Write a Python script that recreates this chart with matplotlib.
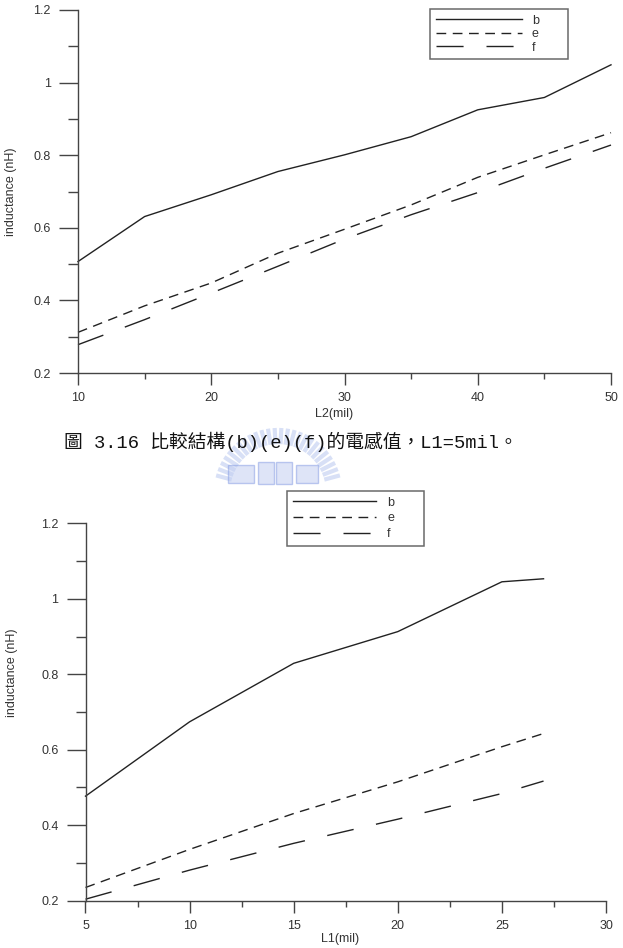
import numpy as np
import matplotlib
matplotlib.use("Agg")
import matplotlib.pyplot as plt
from matplotlib.ticker import MultipleLocator, FuncFormatter
from matplotlib.lines import Line2D
from matplotlib.patches import Rectangle

# ---------------- data ----------------
top_x = [10, 15, 20, 25, 30, 35, 40, 45, 50]
top_b = [0.507, 0.631, 0.691, 0.755, 0.801, 0.851, 0.925, 0.959, 1.049]
top_e = [0.312, 0.385, 0.448, 0.530, 0.596, 0.663, 0.739, 0.801, 0.862]
top_f = [0.278, 0.347, 0.420, 0.494, 0.569, 0.636, 0.697, 0.764, 0.828]

bot_x = [5, 10, 15, 20, 25, 27]
bot_b = [0.477, 0.674, 0.829, 0.913, 1.045, 1.053]
bot_e = [0.235, 0.336, 0.431, 0.515, 0.608, 0.643]
bot_f = [0.204, 0.281, 0.352, 0.416, 0.484, 0.517]

series_names = ["b", "e", "f"]
top_xlabel = "L2(mil)"
bot_xlabel = "L1(mil)"
ylabel = "inductance (nH)"
caption = "圖 3.16 比較結構(b)(e)(f)的電感值，L1=5mil。"

# ---------------- style ----------------
W, H = 623, 948
plt.rcParams['font.family'] = ['Liberation Sans', 'DejaVu Sans']
fig = plt.figure(figsize=(W / 100, H / 100), dpi=100)

line_col = '#222222'
axis_col = '#444444'
styles = [dict(ls='-'), dict(ls=(0, (7, 4.7))), dict(ls=(0, (19.5, 16.5)))]


def fmt(v, pos):
    return ('%g' % round(v, 3))


def style_axes(ax, xlim, xmaj, xmin):
    ax.set_xlim(*xlim)
    ax.set_ylim(0.2, 1.2)
    for s in ['top', 'right']:
        ax.spines[s].set_visible(False)
    for s in ['left', 'bottom']:
        ax.spines[s].set_color(axis_col)
        ax.spines[s].set_linewidth(1.0)
    ax.xaxis.set_major_locator(MultipleLocator(xmaj))
    ax.xaxis.set_minor_locator(MultipleLocator(xmin))
    ax.yaxis.set_major_locator(MultipleLocator(0.2))
    ax.yaxis.set_minor_locator(MultipleLocator(0.1))
    ax.yaxis.set_major_formatter(FuncFormatter(fmt))
    ax.tick_params(axis='y', which='major', direction='out', length=13.5, width=1.0,
                   color=axis_col, labelsize=9, labelcolor='#333333', pad=6)
    ax.tick_params(axis='y', which='minor', direction='out', length=7, width=1.0, color=axis_col)
    ax.tick_params(axis='x', which='major', direction='out', length=8.5, width=1.0,
                   color=axis_col, labelsize=9, labelcolor='#333333', pad=5.5)
    ax.tick_params(axis='x', which='minor', direction='out', length=4, width=1.0, color=axis_col)
    for sp in ax.spines.values():
        sp.set_zorder(5)


def style_legend(leg):
    leg.get_frame().set_edgecolor(axis_col)
    leg.get_frame().set_linewidth(1.1)
    for t in leg.get_texts():
        t.set_color('#333333')


# ---------------- top axes ----------------
ax1 = fig.add_axes([78 / W, 1 - 373 / H, (611 - 78) / W, (373 - 10) / H])
style_axes(ax1, (10, 50), 10, 5)
for ys, nm, st in zip([top_b, top_e, top_f], series_names, styles):
    ax1.plot(top_x, ys, color=line_col, lw=1.0, label=nm, clip_on=False, **st)
ax1.set_xlabel(top_xlabel, fontsize=9, color='#333333')
ax1.set_ylabel(ylabel, fontsize=9, color='#333333')
ax1.yaxis.set_label_coords(-(78 - 17) / 533, 0.5)
ax1.xaxis.set_label_coords(0.48, -35 / 363)

lh = 0.02
leg1 = ax1.legend(loc='upper left', bbox_to_anchor=(430 / W, 1 - 9 / H - lh, 138 / W, lh),
                  bbox_transform=fig.transFigure, mode='expand', fontsize=9,
                  handlelength=6.9, handletextpad=0.8, labelspacing=0.12,
                  borderpad=0.45, borderaxespad=0, frameon=True, fancybox=False)
style_legend(leg1)

# ---------------- bottom axes ----------------
ax2 = fig.add_axes([85.5 / W, 1 - 900.7 / H, (606 - 85.5) / W, (900.7 - 523.3) / H])
style_axes(ax2, (5, 30), 5, 2.5)
for ys, nm, st in zip([bot_b, bot_e, bot_f], series_names, styles):
    ax2.plot(bot_x, ys, color=line_col, lw=1.0, label=nm, clip_on=False, **st)
ax2.set_xlabel(bot_xlabel, fontsize=9, color='#333333')
ax2.set_ylabel(ylabel, fontsize=9, color='#333333')
ax2.yaxis.set_label_coords(-(85.5 - 18) / 520.5, 0.605)
ax2.xaxis.set_label_coords(0.49, -32 / 377.4)

leg2 = ax2.legend(loc='upper left', bbox_to_anchor=(287 / W, 1 - 491 / H - lh, 137 / W, lh),
                  bbox_transform=fig.transFigure, mode='expand', fontsize=9,
                  handlelength=6.7, handletextpad=0.85, labelspacing=0.3,
                  borderpad=0.45, borderaxespad=0, frameon=True, fancybox=False)
style_legend(leg2)

# ---------------- watermark (faint logo) ----------------
cx, cy = 278 / W, 1 - 492 / H
for ang in np.linspace(np.radians(15), np.radians(165), 26):
    r0, r1 = 50, 62
    x0 = cx + r0 * np.cos(ang) / W
    y0 = cy + r0 * np.sin(ang) / H
    x1 = cx + r1 * np.cos(ang) / W
    y1 = cy + r1 * np.sin(ang) / H
    fig.add_artist(Line2D([x0, x1], [y0, y1], transform=fig.transFigure,
                          color='#a9bbec', lw=3, alpha=0.45, zorder=0))
for (rx, ry, rw, rh) in [(228, 465, 26, 18), (258, 462, 16, 22), (276, 462, 16, 22), (296, 465, 22, 18)]:
    fig.add_artist(Rectangle((rx / W, 1 - (ry + rh) / H), rw / W, rh / H,
                             transform=fig.transFigure, facecolor='#c3cff2',
                             edgecolor='#8aa0e4', lw=1, alpha=0.55, zorder=0))

# ---------------- caption ----------------
fig.text(291 / W, 1 - 442 / H, caption, ha='center', va='center', fontsize=13.5,
         family=['Liberation Mono', 'Noto Sans CJK TC'], color='#111111')

fig.savefig('out.png', dpi=100)
